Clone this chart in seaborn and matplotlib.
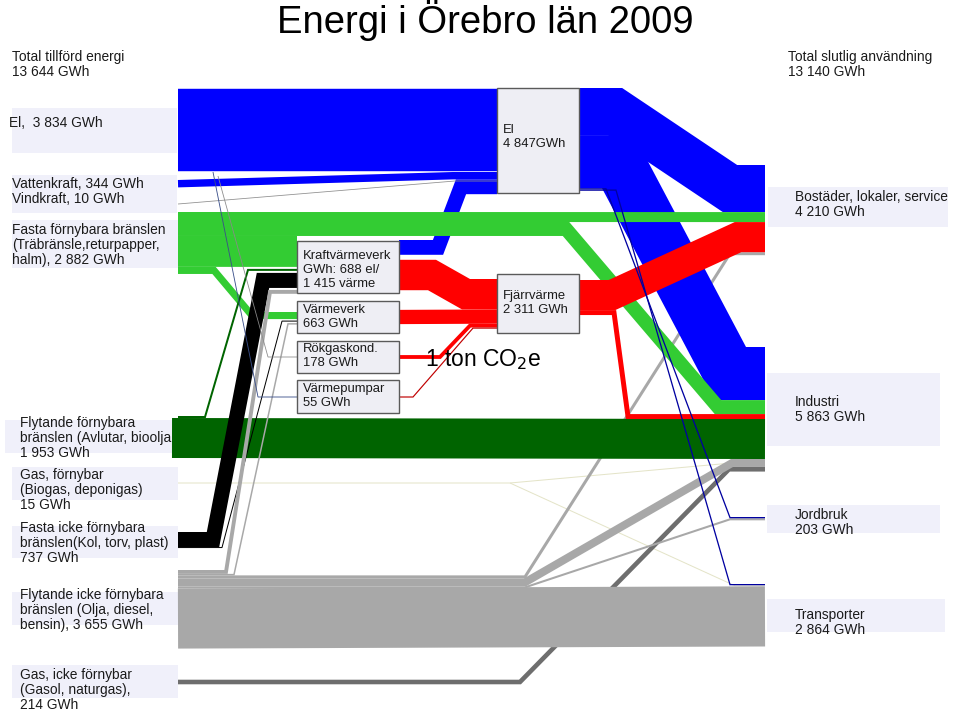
import matplotlib
matplotlib.use("Agg")
import matplotlib.pyplot as plt
import seaborn as sns
from matplotlib.patches import Rectangle

# ---------------------------------------------------------------- data (GWh)
TITLE = "Energi i Örebro län 2009"

# supply
el_import = 3834
vattenkraft = 344
vindkraft = 10
fasta_fb = [465, 650, 1437, 330]          # -> Bostäder, Industri, KVV, Värmeverk
flyt_fb = [93, 1860]                      # -> KVV, Industri
gas_fb = [10, 5]                          # -> Industri, Transporter
fasta_ifb = [700, 37]                     # -> KVV, Värmeverk
flyt_ifb = [180, 70, 140, 370, 95, 2800]  # -> KVV, Värmeverk, Bostäder, Industri, Jordbruk, Transporter
gas_ifb = 214                             # -> Industri

# conversion
kvv_out = [688, 1415]                     # el, värme
vv_out = 663
rok_out = 178
vp_out = 55
el_to_vp = 40
el_to_rok = 20
el_out = [2190, 2470, 60, 60]             # -> Bostäder, Industri, Jordbruk, Transporter
fjv_out = [1400, 230]                     # -> Bostäder, Industri

source_labels = [
    ["Total tillförd energi", "13 644 GWh"],
    ["El,  3 834 GWh"],
    ["Vattenkraft, 344 GWh", "Vindkraft, 10 GWh"],
    ["Fasta förnybara bränslen", "(Träbränsle,returpapper,", "halm), 2 882 GWh"],
    ["Flytande förnybara", "bränslen (Avlutar, bioolja", "1 953 GWh"],
    ["Gas, förnybar", "(Biogas, deponigas)", "15 GWh"],
    ["Fasta icke förnybara", "bränslen(Kol, torv, plast)", "737 GWh"],
    ["Flytande icke förnybara", "bränslen (Olja, diesel,", "bensin), 3 655 GWh"],
    ["Gas, icke förnybar", "(Gasol, naturgas),", "214 GWh"],
]
sink_labels = [
    ["Total slutlig användning", "13 140 GWh"],
    ["Bostäder, lokaler, service", "4 210 GWh"],
    ["Industri", "5 863 GWh"],
    ["Jordbruk", "203 GWh"],
    ["Transporter", "2 864 GWh"],
]
node_labels = {
    "el": ["El", "4 847GWh"],
    "kvv": ["Kraftvärmeverk", "GWh: 688 el/", "1 415 värme"],
    "vv": ["Värmeverk", "663 GWh"],
    "rok": ["Rökgaskond.", "178 GWh"],
    "vp": ["Värmepumpar", "55 GWh"],
    "fjv": ["Fjärrvärme", "2 311 GWh"],
}

# ---------------------------------------------------------------- layout
W, H, DPI = 960, 714, 100
SCALE = 0.0215  # px per GWh
XS, XE = 178, 765

BLUE = "#0000FF"
LGREEN = "#33CC33"
DGREEN = "#006400"
RED = "#FF0000"
GRAY = "#A8A8A8"
DGRAY = "#6E6E6E"
PALE = "#E4E4C8"
BG = "#F0F0FA"


def width(v, minimum=1.0):
    return max(v * SCALE, minimum)


def stack(top, values, gap=0.0, minimum=1.0):
    centers, y = [], top
    for v in values:
        w = width(v, minimum)
        centers.append(y + w / 2)
        y += w + gap
    return centers


def band(ax, pts, value, color, z, minimum=1.0):
    xs = [p[0] for p in pts]
    ys = [p[1] for p in pts]
    sns.lineplot(x=xs, y=ys, ax=ax, sort=False, estimator=None, color=color,
                 linewidth=width(value, minimum) * 72 / DPI, zorder=z,
                 solid_joinstyle="miter", solid_capstyle="butt", legend=False)


def lines(ax, x, y0, rows, size=9.9, step=15, **kw):
    for i, row in enumerate(rows):
        ax.text(x, y0 + i * step, row, fontsize=size, va="center", ha="left",
                color="#1a1a1a", zorder=9, **kw)


sns.set_theme(style="white")
plt.rcParams["font.family"] = ["Liberation Sans", "DejaVu Sans"]

fig = plt.figure(figsize=(W / DPI, H / DPI), dpi=DPI)
ax = fig.add_axes([0, 0, 1, 1])

# stacked attachment points
ff = stack(212, fasta_fb)
fb = stack(416, flyt_fb)
fi = stack(532, fasta_ifb)
fo = stack(570, flyt_ifb)
bost = stack(165, [el_out[0], fasta_fb[0], fjv_out[0], flyt_ifb[2]])
ind = stack(347, [el_out[1], fasta_fb[1], fjv_out[1], flyt_fb[1], flyt_ifb[3], gas_ifb])
jord = stack(517, [el_out[2], flyt_ifb[4]])
trans = stack(584, [el_out[3], gas_fb[1], flyt_ifb[5]])
el_in = stack(172, [vattenkraft, kvv_out[0]])
el_o = stack(88, el_out)
kvv_in = stack(236, [fasta_fb[2], flyt_fb[0], fasta_ifb[0], flyt_ifb[0]], gap=2)
kvv_o = stack(240, kvv_out, gap=5)
vv_in = stack(312, [fasta_fb[3], fasta_ifb[1], flyt_ifb[1]], gap=1.5)
fj_in = stack(279, [kvv_out[1], vv_out, rok_out, vp_out])
fj_o = stack(280, fjv_out)
el_c = stack(89, [el_import])[0]
vk_c = stack(180, [vattenkraft])[0]

# label backgrounds
for x0, y0, x1, y1 in [(12, 108, 177, 153), (12, 175, 177, 213), (12, 220, 178, 268),
                       (5, 420, 172, 453), (12, 467, 178, 500), (12, 526, 178, 558),
                       (12, 592, 178, 625), (12, 665, 178, 698),
                       (768, 187, 948, 227), (767, 373, 940, 446),
                       (767, 505, 940, 533), (767, 599, 945, 632)]:
    ax.add_patch(Rectangle((x0, y0), x1 - x0, y1 - y0, color=BG, zorder=0.5, lw=0))

# pale + gas (behind)
band(ax, [(XS, 483), (510, 483), (XE, 460)], gas_fb[0], PALE, 1)
band(ax, [(510, 483), (735, trans[1]), (XE, trans[1])], gas_fb[1], PALE, 1)
band(ax, [(XS, 682), (520, 682), (729, ind[5]), (XE, ind[5])], gas_ifb, DGRAY, 1.5)

# oil
band(ax, [(XS, fo[2]), (525, fo[2]), (730, bost[3]), (XE, bost[3])], flyt_ifb[2], GRAY, 2)
band(ax, [(XS, fo[3]), (525, fo[3]), (732, ind[4]), (XE, ind[4])], flyt_ifb[3], GRAY, 2)
band(ax, [(XS, fo[4]), (525, fo[4]), (730, jord[1]), (XE, jord[1])], flyt_ifb[4], GRAY, 2)
band(ax, [(XS, fo[5]), (XE, trans[2])], flyt_ifb[5], GRAY, 2.1)

# electricity
band(ax, [(XS, el_c), (497, el_c)], el_import, BLUE, 4)
band(ax, [(XS, vk_c), (453, el_in[0]), (497, el_in[0])], vattenkraft, BLUE, 4)
band(ax, [(XS, 204), (455, 181), (497, 181)], vindkraft, "#909090", 4.1, minimum=0.8)
band(ax, [(399, kvv_o[0]), (438, kvv_o[0]), (461, el_in[1]), (497, el_in[1])], kvv_out[0], BLUE, 4)
band(ax, [(579, el_o[0]), (615, el_o[0]), (730, bost[0]), (XE, bost[0])], el_out[0], BLUE, 4)
band(ax, [(579, el_o[1]), (618, el_o[1]), (730, ind[0]), (XE, ind[0])], el_out[1], BLUE, 4)

# solid renewables
band(ax, [(XS, ff[0]), (XE, bost[1])], fasta_fb[0], LGREEN, 5)
band(ax, [(XS, ff[1]), (566, ff[1]), (718, ind[1]), (XE, ind[1])], fasta_fb[1], LGREEN, 5)
band(ax, [(XS, ff[2]), (297, kvv_in[0])], fasta_fb[2], LGREEN, 5)
band(ax, [(XS, ff[3]), (214, ff[3]), (252, vv_in[0]), (297, vv_in[0])], fasta_fb[3], LGREEN, 5)

# liquid renewables
band(ax, [(172, fb[1]), (XE, ind[3])], flyt_fb[1], DGREEN, 5.5)
band(ax, [(XS, fb[0]), (205, fb[0]), (248, kvv_in[1]), (297, kvv_in[1])], flyt_fb[0], DGREEN, 5.5)

# solid non-renewables
band(ax, [(XS, fi[0]), (213, fi[0]), (263, kvv_in[2]), (297, kvv_in[2])], fasta_ifb[0], "black", 5.8)
band(ax, [(XS, fi[1]), (222, fi[1]), (282, vv_in[1]), (297, vv_in[1])], fasta_ifb[1], "black", 5.8)
band(ax, [(XS, fo[0]), (226, fo[0]), (270, kvv_in[3]), (297, kvv_in[3])], flyt_ifb[0], GRAY, 5.9)
band(ax, [(XS, fo[1]), (234, fo[1]), (288, vv_in[2]), (297, vv_in[2])], flyt_ifb[1], GRAY, 5.9)

# district heating
band(ax, [(399, kvv_o[1]), (432, kvv_o[1]), (466, fj_in[0]), (497, fj_in[0])], kvv_out[1], RED, 6)
band(ax, [(399, 317), (497, fj_in[1])], vv_out, RED, 6)
band(ax, [(399, 357), (440, 357), (470, fj_in[2]), (497, fj_in[2])], rok_out, RED, 6)
band(ax, [(399, 397), (413, 397), (473, fj_in[3]), (497, fj_in[3])], vp_out, "#C00000", 6)
band(ax, [(579, fj_o[0]), (612, fj_o[0]), (738, bost[2]), (XE, bost[2])], fjv_out[0], RED, 6)
band(ax, [(579, fj_o[1]), (614, fj_o[1]), (628, ind[2]), (XE, ind[2])], fjv_out[1], RED, 6)

# thin electricity lines on top
band(ax, [(579, el_o[2]), (606, el_o[2]), (730, jord[0]), (XE, jord[0])], el_out[2], "#0000A0", 6.5)
band(ax, [(579, el_o[3]), (616, el_o[3]), (730, trans[0]), (XE, trans[0])], el_out[3], "#0000A0", 6.5)
band(ax, [(213, 172), (258, 397), (297, 397)], el_to_vp, "#3A4F8A", 6.5, minimum=0.8)
band(ax, [(218, 176), (268, 357), (297, 357)], el_to_rok, "#8A8A8A", 6.5, minimum=0.8)

# nodes
boxes = {"el": (497, 88, 579, 193), "kvv": (297, 241, 399, 293), "vv": (297, 301, 399, 333),
         "rok": (297, 341, 399, 373), "vp": (297, 380, 399, 413), "fjv": (497, 274, 579, 333)}
text_pos = {"el": (503, 130), "kvv": (303, 256), "vv": (303, 310), "rok": (303, 349),
            "vp": (303, 389), "fjv": (503, 296)}
for key, (x0, y0, x1, y1) in boxes.items():
    ax.add_patch(Rectangle((x0, y0), x1 - x0, y1 - y0, facecolor="#EEEEF4",
                           edgecolor="#5a5a5a", lw=1.0, zorder=8))
    tx, ty = text_pos[key]
    lines(ax, tx, ty, node_labels[key], size=9.4, step=14)

# source / sink labels
src_pos = [(12, 57), (9, 123), (12, 184), (12, 230), (20, 423), (20, 475), (20, 528), (20, 595), (20, 675)]
for (x, y), rows in zip(src_pos, source_labels):
    lines(ax, x, y, rows)
snk_pos = [(788, 57), (795, 197), (795, 402), (795, 515), (795, 615)]
for (x, y), rows in zip(snk_pos, sink_labels):
    lines(ax, x, y, rows)

ax.text(485, 33, TITLE, fontsize=27.5, ha="center", va="baseline", color="black", zorder=10)
ax.text(425, 366, r"1 ton CO$_2$e", fontsize=16.5, ha="left", va="baseline", color="black", zorder=10)

ax.set_xlim(0, W)
ax.set_ylim(H, 0)
ax.axis("off")
fig.savefig("out.png", dpi=DPI)
